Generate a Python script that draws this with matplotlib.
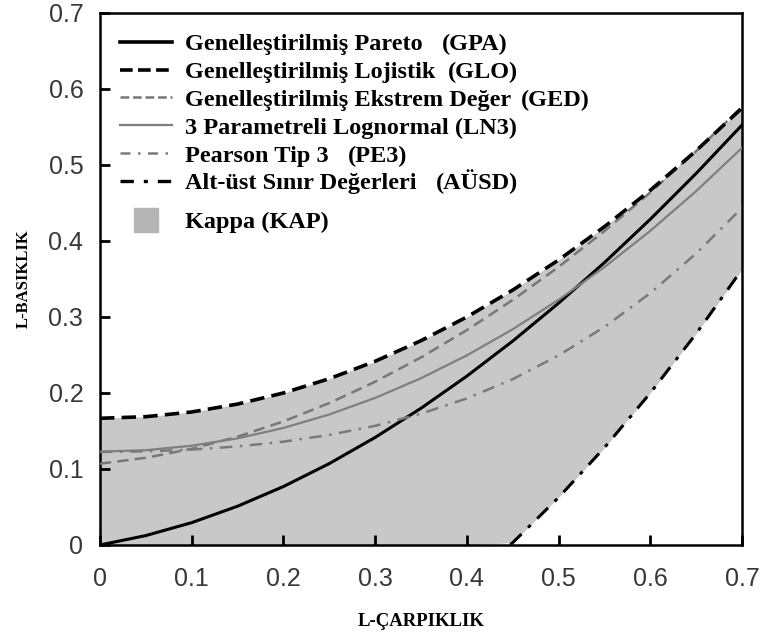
import matplotlib.pyplot as plt
from matplotlib.lines import Line2D
import numpy as np

# L-carpiklik (tau3) noktalari
tau3 = [0.00, 0.05, 0.10, 0.15, 0.20, 0.25, 0.30, 0.35,
        0.40, 0.45, 0.50, 0.55, 0.60, 0.65, 0.70]

# L-basiklik (tau4) degerleri, her dagilim icin
gpa = [0.0000, 0.0124, 0.0294, 0.0510, 0.0769, 0.1071, 0.1415, 0.1799,
       0.2222, 0.2683, 0.3182, 0.3716, 0.4286, 0.4889, 0.5526]
glo = [0.1667, 0.1688, 0.1750, 0.1854, 0.2000, 0.2188, 0.2417, 0.2688,
       0.3000, 0.3354, 0.3750, 0.4188, 0.4667, 0.5188, 0.5750]
gev = [0.1070, 0.1147, 0.1265, 0.1425, 0.1626, 0.1867, 0.2148, 0.2468,
       0.2827, 0.3224, 0.3658, 0.4130, 0.4638, 0.5182, 0.5766]
ln3 = [0.1228, 0.1247, 0.1306, 0.1403, 0.1540, 0.1717, 0.1935, 0.2194,
       0.2495, 0.2839, 0.3226, 0.3657, 0.4133, 0.4656, 0.5226]
pe3 = [0.1224, 0.1232, 0.1255, 0.1297, 0.1359, 0.1448, 0.1568, 0.1727,
       0.1928, 0.2182, 0.2494, 0.2869, 0.3314, 0.3836, 0.4435]
ausd = [-0.2500, -0.2469, -0.2375, -0.2219, -0.2000, -0.1719, -0.1375, -0.0969,
        -0.0500, 0.0031, 0.0625, 0.1281, 0.2000, 0.2781, 0.3625]

ticks = [0, 0.1, 0.2, 0.3, 0.4, 0.5, 0.6, 0.7]
tick_labels = ['0', '0.1', '0.2', '0.3', '0.4', '0.5', '0.6', '0.7']

serif = 'Liberation Serif'
sans = 'Liberation Sans'
fs_leg = 17.5

fig = plt.figure(figsize=(7.66, 6.36), dpi=100)
ax = fig.add_axes([0.1305, 0.1431, 0.9687 - 0.1305, 0.9796 - 0.1431])

# Kappa bolgesi: alt sinir ile GLO arasi
ax.fill_between(tau3, np.maximum(ausd, 0), glo, color='#c8c8c8', lw=0, zorder=1)

ax.plot(tau3, gpa, color='black', lw=2.2, zorder=3)
ax.plot(tau3, glo, color='black', lw=2.6, ls=(0, (4, 2)), zorder=4)
ax.plot(tau3, gev, color='#777777', lw=1.8, ls=(0, (4.5, 2.5)), zorder=3)
ax.plot(tau3, ln3, color='#7f7f7f', lw=1.6, zorder=3)
ax.plot(tau3, pe3, color='#7a7a7a', lw=1.8, ls=(0, (5, 3, 1, 3)), zorder=3)
ax.plot(tau3, ausd, color='black', lw=2.2, ls=(0, (5, 3, 1.2, 3)), zorder=3)

ax.set_xlim(0, 0.7)
ax.set_ylim(0, 0.7)
ax.set_xticks(ticks)
ax.set_yticks(ticks)
ax.set_xticklabels(tick_labels, family=sans, fontsize=18, color='#383838')
ax.set_yticklabels(tick_labels, family=sans, fontsize=18, color='#383838')
ax.tick_params(direction='in', length=7, width=2, color='black')
ax.tick_params(axis='x', pad=16)
ax.tick_params(axis='y', pad=12)
for sp in ax.spines.values():
    sp.set_linewidth(1.8)

ax.set_xlabel('L-ÇARPIKLIK', family=serif, fontweight='bold', fontsize=13.5, labelpad=16)
ax.set_ylabel('L-BASIKLIK', family=serif, fontweight='bold', fontsize=12, labelpad=12)

# Lejant: cizgiler
handles = [
    Line2D([], [], color='black', lw=2.6),
    Line2D([], [], color='black', lw=2.6, ls=(0, (3.5, 1.5))),
    Line2D([], [], color='#777777', lw=1.8, ls=(0, (3.5, 1.5))),
    Line2D([], [], color='#7f7f7f', lw=1.6),
    Line2D([], [], color='#7a7a7a', lw=1.8, ls=(0, (4, 3, 1, 3))),
    Line2D([], [], color='black', lw=2.4, ls=(0, (4, 3, 1.2, 3))),
]
names = [
    'Genelleştirilmiş Pareto',
    'Genelleştirilmiş Lojistik',
    'Genelleştirilmiş Ekstrem Değer',
    '3 Parametreli Lognormal (LN3)',
    'Pearson Tip 3',
    'Alt-üst Sınır Değerleri',
]
leg_kw = dict(frameon=False, borderpad=0, borderaxespad=0, handlelength=2.15,
              handletextpad=0.53, labelspacing=0.24,
              prop={'family': serif, 'weight': 'bold', 'size': fs_leg})
leg = ax.legend(handles, names, loc='upper left', bbox_to_anchor=(0.031, 0.962), **leg_kw)
ax.add_artist(leg)

# Kappa ayri satirda, biraz asagida
kap = ax.legend([Line2D([], [], color='#b4b4b4', marker='s', markersize=17, ls='none')],
                ['Kappa (KAP)'], loc='center left', bbox_to_anchor=(0.031, 0.607), **leg_kw)

# Kisaltmalar, ilgili lejant yazisinin sagina
abbrevs = {0: ('(GPA)', 14), 1: ('(GLO)', 9), 2: ('(GED)', 7),
           4: ('(PE3)', 14), 5: ('(AÜSD)', 14)}
texts = leg.get_texts()
for i, (lab, off) in abbrevs.items():
    ax.annotate(lab, xy=(1, 0), xycoords=texts[i], xytext=(off, 0),
                textcoords='offset points', va='bottom', ha='left',
                family=serif, fontweight='bold', fontsize=fs_leg, zorder=10)

fig.savefig('out.png', dpi=100)
